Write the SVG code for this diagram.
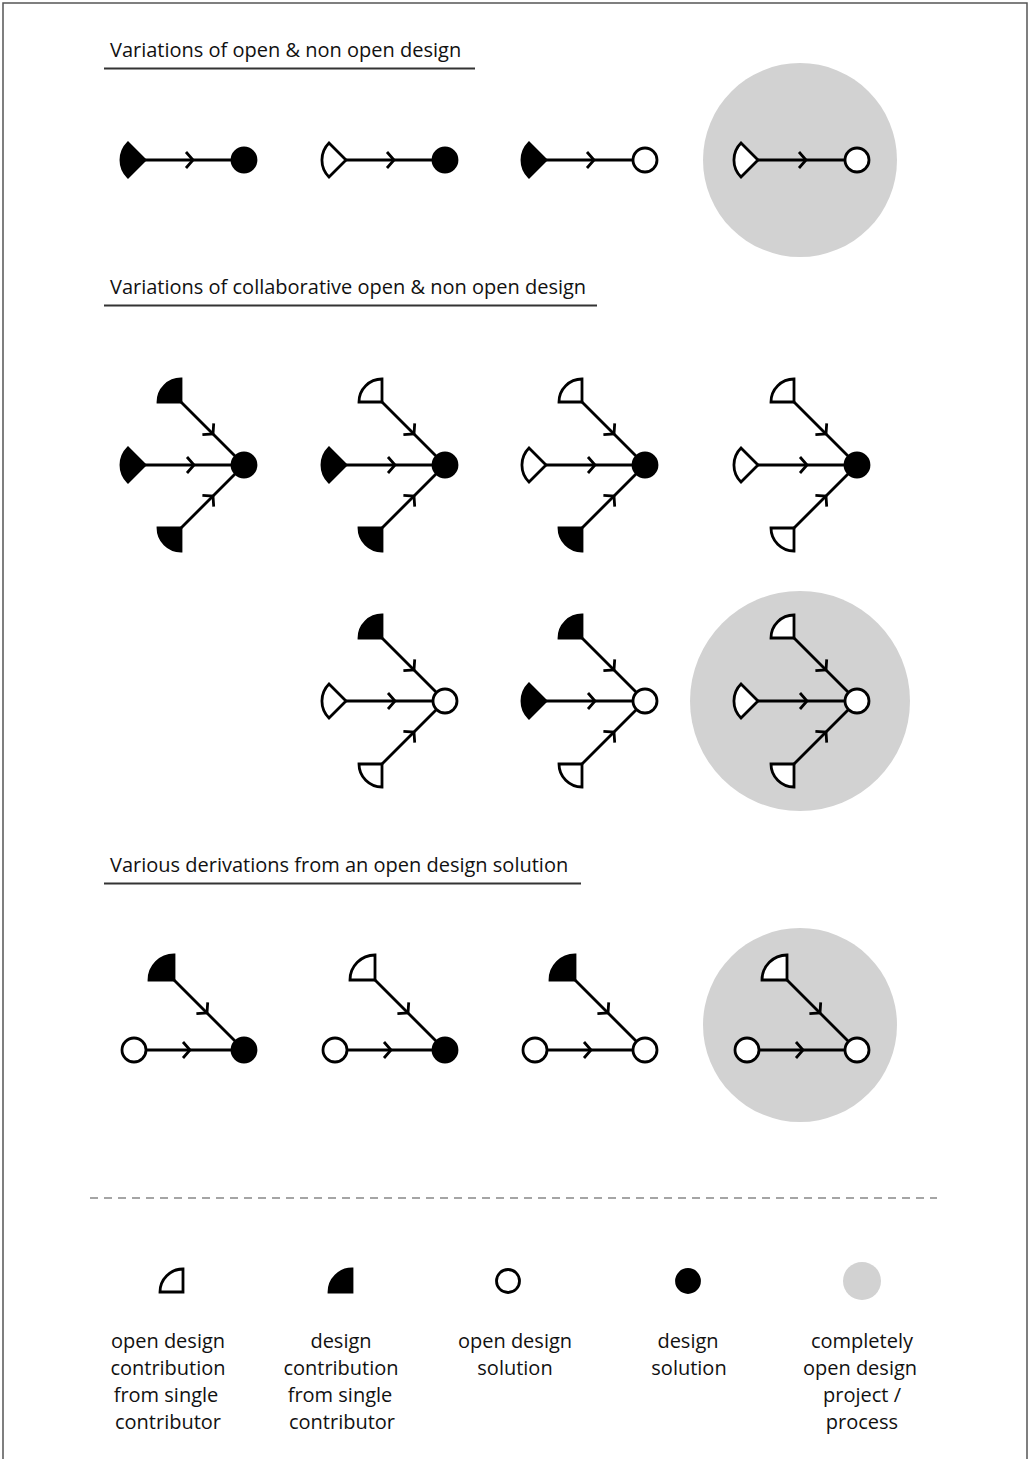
<svg xmlns="http://www.w3.org/2000/svg" xmlns:xlink="http://www.w3.org/1999/xlink" width="1029" height="1459" viewBox="0 0 1029 1459">
<style>
.o{fill:#fff;stroke:#000;stroke-width:2.8}
.f{fill:#000;stroke:#000;stroke-width:2.8}
.ln{fill:none;stroke:#000;stroke-width:2.8}
.ch{fill:none;stroke:#000;stroke-width:2.8;stroke-linejoin:miter}
.bg{fill:#d2d2d2}
.hd{font-family:"Open Sans","Liberation Sans",sans-serif;font-size:20px;fill:#111}
.lg{font-family:"Open Sans","Liberation Sans",sans-serif;font-size:20px;fill:#111;text-anchor:middle}
.ul{stroke:#333;stroke-width:1.8}
</style>
<defs>
<path id="sR" d="M0,0 L-17,-17 A24,24 0 0 0 -17,17 Z"/>
<path id="sT" d="M0,0 L-23,0 A23,23 0 0 1 0,-23 Z"/>
<path id="sB" d="M0,0 L0,23 A23,23 0 0 1 -23,0 Z"/>
<path id="sD" d="M0,0 L-25,0 A25,25 0 0 1 0,-25 Z"/>
<path id="chev" d="M-7,-8 L0,0 L-7,8"/>
</defs>
<rect x="0" y="0" width="1029" height="1459" fill="#fff"/>
<rect x="3" y="3" width="1024" height="1480" fill="none" stroke="#555" stroke-width="1.5"/>

<g id="headers">
<text class="hd" x="110" y="57">Variations of open &amp; non open design</text>
<line class="ul" x1="104" y1="68.5" x2="475" y2="68.5"/>
<text class="hd" x="110" y="294">Variations of collaborative open &amp; non open design</text>
<line class="ul" x1="104" y1="305.5" x2="597" y2="305.5"/>
<text class="hd" x="110" y="872">Various derivations from an open design solution</text>
<line class="ul" x1="104" y1="883.5" x2="581" y2="883.5"/>
</g>

<g id="projects">
<circle id="proj1" class="bg" cx="800" cy="160" r="97"/>
<circle id="proj2" class="bg" cx="800" cy="701" r="110"/>
<circle id="proj3" class="bg" cx="800" cy="1025" r="97"/>
</g>

<g id="connectors">
<line class="ln" x1="145" y1="160" x2="244" y2="160"/><use href="#chev" class="ch" transform="translate(193,160)"/>
<line class="ln" x1="346" y1="160" x2="445" y2="160"/><use href="#chev" class="ch" transform="translate(394,160)"/>
<line class="ln" x1="546" y1="160" x2="645" y2="160"/><use href="#chev" class="ch" transform="translate(594,160)"/>
<line class="ln" x1="758" y1="160" x2="857" y2="160"/><use href="#chev" class="ch" transform="translate(806,160)"/>
<line class="ln" x1="145" y1="465" x2="244" y2="465"/><use href="#chev" class="ch" transform="translate(194,465)"/>
<line class="ln" x1="181" y1="402" x2="244" y2="465"/><use href="#chev" class="ch" transform="translate(213,434) rotate(45)"/>
<line class="ln" x1="181" y1="528" x2="244" y2="465"/><use href="#chev" class="ch" transform="translate(213,496) rotate(-45)"/>
<line class="ln" x1="346" y1="465" x2="445" y2="465"/><use href="#chev" class="ch" transform="translate(395,465)"/>
<line class="ln" x1="382" y1="402" x2="445" y2="465"/><use href="#chev" class="ch" transform="translate(414,434) rotate(45)"/>
<line class="ln" x1="382" y1="528" x2="445" y2="465"/><use href="#chev" class="ch" transform="translate(414,496) rotate(-45)"/>
<line class="ln" x1="546" y1="465" x2="645" y2="465"/><use href="#chev" class="ch" transform="translate(595,465)"/>
<line class="ln" x1="582" y1="402" x2="645" y2="465"/><use href="#chev" class="ch" transform="translate(614,434) rotate(45)"/>
<line class="ln" x1="582" y1="528" x2="645" y2="465"/><use href="#chev" class="ch" transform="translate(614,496) rotate(-45)"/>
<line class="ln" x1="758" y1="465" x2="857" y2="465"/><use href="#chev" class="ch" transform="translate(807,465)"/>
<line class="ln" x1="794" y1="402" x2="857" y2="465"/><use href="#chev" class="ch" transform="translate(826,434) rotate(45)"/>
<line class="ln" x1="794" y1="528" x2="857" y2="465"/><use href="#chev" class="ch" transform="translate(826,496) rotate(-45)"/>
<line class="ln" x1="346" y1="701" x2="445" y2="701"/><use href="#chev" class="ch" transform="translate(395,701)"/>
<line class="ln" x1="382" y1="638" x2="445" y2="701"/><use href="#chev" class="ch" transform="translate(414,670) rotate(45)"/>
<line class="ln" x1="382" y1="764" x2="445" y2="701"/><use href="#chev" class="ch" transform="translate(414,732) rotate(-45)"/>
<line class="ln" x1="546" y1="701" x2="645" y2="701"/><use href="#chev" class="ch" transform="translate(595,701)"/>
<line class="ln" x1="582" y1="638" x2="645" y2="701"/><use href="#chev" class="ch" transform="translate(614,670) rotate(45)"/>
<line class="ln" x1="582" y1="764" x2="645" y2="701"/><use href="#chev" class="ch" transform="translate(614,732) rotate(-45)"/>
<line class="ln" x1="758" y1="701" x2="857" y2="701"/><use href="#chev" class="ch" transform="translate(807,701)"/>
<line class="ln" x1="794" y1="638" x2="857" y2="701"/><use href="#chev" class="ch" transform="translate(826,670) rotate(45)"/>
<line class="ln" x1="794" y1="764" x2="857" y2="701"/><use href="#chev" class="ch" transform="translate(826,732) rotate(-45)"/>
<line class="ln" x1="134" y1="1050" x2="244" y2="1050"/><use href="#chev" class="ch" transform="translate(190,1050)"/>
<line class="ln" x1="174" y1="980" x2="244" y2="1050"/><use href="#chev" class="ch" transform="translate(207,1013) rotate(45)"/>
<line class="ln" x1="335" y1="1050" x2="445" y2="1050"/><use href="#chev" class="ch" transform="translate(391,1050)"/>
<line class="ln" x1="375" y1="980" x2="445" y2="1050"/><use href="#chev" class="ch" transform="translate(408,1013) rotate(45)"/>
<line class="ln" x1="535" y1="1050" x2="645" y2="1050"/><use href="#chev" class="ch" transform="translate(591,1050)"/>
<line class="ln" x1="575" y1="980" x2="645" y2="1050"/><use href="#chev" class="ch" transform="translate(608,1013) rotate(45)"/>
<line class="ln" x1="747" y1="1050" x2="857" y2="1050"/><use href="#chev" class="ch" transform="translate(803,1050)"/>
<line class="ln" x1="787" y1="980" x2="857" y2="1050"/><use href="#chev" class="ch" transform="translate(820,1013) rotate(45)"/>
</g>

<g id="row1">
<g id="r1c1"><use href="#sR" class="f" x="145" y="160"/><circle class="f" cx="244" cy="160" r="12"/></g>
<g id="r1c2"><use href="#sR" class="o" x="346" y="160"/><circle class="f" cx="445" cy="160" r="12"/></g>
<g id="r1c3"><use href="#sR" class="f" x="546" y="160"/><circle class="o" cx="645" cy="160" r="12"/></g>
<g id="r1c4"><use href="#sR" class="o" x="758" y="160"/><circle class="o" cx="857" cy="160" r="12"/></g>
</g>

<g id="collab1">
<g id="c1c1"><use href="#sT" class="f" x="181" y="402"/><use href="#sR" class="f" x="145" y="465"/><use href="#sB" class="f" x="181" y="528"/><circle class="f" cx="244" cy="465" r="12"/></g>
<g id="c1c2"><use href="#sT" class="o" x="382" y="402"/><use href="#sR" class="f" x="346" y="465"/><use href="#sB" class="f" x="382" y="528"/><circle class="f" cx="445" cy="465" r="12"/></g>
<g id="c1c3"><use href="#sT" class="o" x="582" y="402"/><use href="#sR" class="o" x="546" y="465"/><use href="#sB" class="f" x="582" y="528"/><circle class="f" cx="645" cy="465" r="12"/></g>
<g id="c1c4"><use href="#sT" class="o" x="794" y="402"/><use href="#sR" class="o" x="758" y="465"/><use href="#sB" class="o" x="794" y="528"/><circle class="f" cx="857" cy="465" r="12"/></g>
</g>

<g id="collab2">
<g id="c2c2"><use href="#sT" class="f" x="382" y="638"/><use href="#sR" class="o" x="346" y="701"/><use href="#sB" class="o" x="382" y="764"/><circle class="o" cx="445" cy="701" r="12"/></g>
<g id="c2c3"><use href="#sT" class="f" x="582" y="638"/><use href="#sR" class="f" x="546" y="701"/><use href="#sB" class="o" x="582" y="764"/><circle class="o" cx="645" cy="701" r="12"/></g>
<g id="c2c4"><use href="#sT" class="o" x="794" y="638"/><use href="#sR" class="o" x="758" y="701"/><use href="#sB" class="o" x="794" y="764"/><circle class="o" cx="857" cy="701" r="12"/></g>
</g>

<g id="derivations">
<g id="d1"><use href="#sD" class="f" x="174" y="980"/><circle class="o" cx="134" cy="1050" r="12"/><circle class="f" cx="244" cy="1050" r="12"/></g>
<g id="d2"><use href="#sD" class="o" x="375" y="980"/><circle class="o" cx="335" cy="1050" r="12"/><circle class="f" cx="445" cy="1050" r="12"/></g>
<g id="d3"><use href="#sD" class="f" x="575" y="980"/><circle class="o" cx="535" cy="1050" r="12"/><circle class="o" cx="645" cy="1050" r="12"/></g>
<g id="d4"><use href="#sD" class="o" x="787" y="980"/><circle class="o" cx="747" cy="1050" r="12"/><circle class="o" cx="857" cy="1050" r="12"/></g>
</g>

<line id="divider" x1="90" y1="1198" x2="937" y2="1198" stroke="#888" stroke-width="1.5" stroke-dasharray="8,6"/>

<g id="legend">
<g id="lg1"><use href="#sT" class="o" x="183" y="1292"/>
<text class="lg" x="168" y="1348">open design</text><text class="lg" x="168" y="1375">contribution</text><text class="lg" x="166" y="1402">from single</text><text class="lg" x="168" y="1429">contributor</text></g>
<g id="lg2"><use href="#sT" class="f" x="352" y="1292"/>
<text class="lg" x="341" y="1348">design</text><text class="lg" x="341" y="1375">contribution</text><text class="lg" x="340" y="1402">from single</text><text class="lg" x="342" y="1429">contributor</text></g>
<g id="lg3"><circle class="o" cx="508" cy="1281" r="11.5"/>
<text class="lg" x="515" y="1348">open design</text><text class="lg" x="515" y="1375">solution</text></g>
<g id="lg4"><circle class="f" cx="688" cy="1281" r="11.5"/>
<text class="lg" x="688" y="1348">design</text><text class="lg" x="689" y="1375">solution</text></g>
<g id="lg5"><circle class="bg" cx="862" cy="1281" r="19"/>
<text class="lg" x="862" y="1348">completely</text><text class="lg" x="860" y="1375">open design</text><text class="lg" x="862" y="1402">project /</text><text class="lg" x="862" y="1429">process</text></g>
</g>
</svg>
